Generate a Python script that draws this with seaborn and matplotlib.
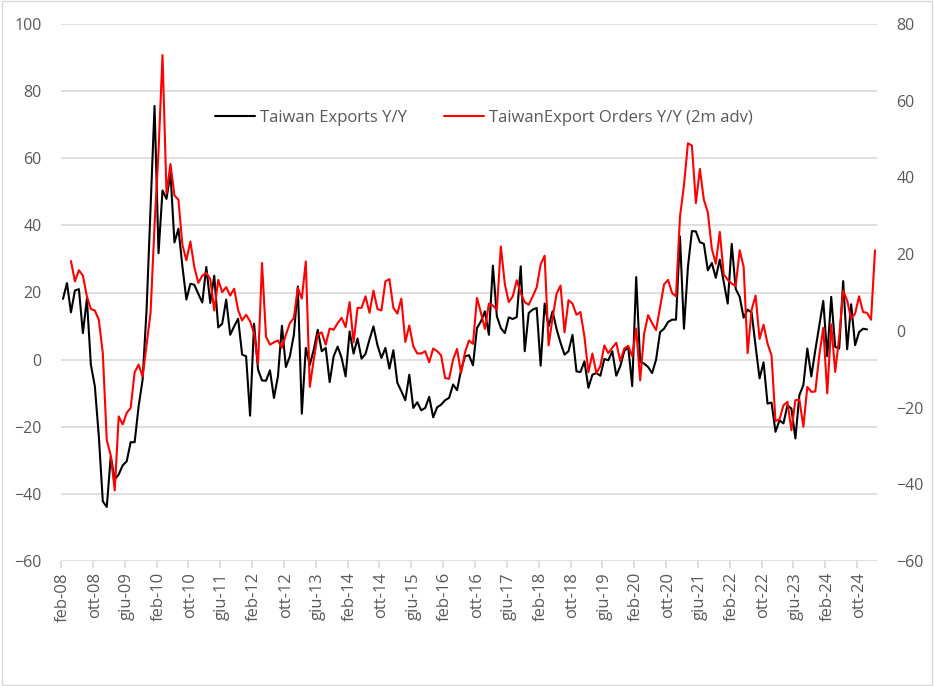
import numpy as np
import pandas as pd
import matplotlib
matplotlib.use("Agg")
import matplotlib.pyplot as plt
import seaborn as sns

# Serie mensili da feb-08 (205 mesi)
start_month = "2008-02"
n_months = 205
mesi_it = ['gen', 'feb', 'mar', 'apr', 'mag', 'giu', 'lug', 'ago', 'set', 'ott', 'nov', 'dic']

# Taiwan Exports Y/Y (asse sinistro), feb-08 .. dic-24
exports_yy = [
    18.1, 22.8, 14.1, 20.6, 21.0, 7.9, 18.1, -1.5, -7.9, -22.8,
    -42.2, -43.9, -28.8, -35.7, -34.2, -31.5, -30.3, -24.6, -24.6, -13.9,
    -6.0, 14.9, 45.6, 75.6, 31.7, 50.4, 47.9, 55.6, 34.9, 39.0,
    27.8, 17.9, 22.6, 22.3, 19.6, 17.0, 27.6, 16.9, 25.0, 9.6,
    10.7, 17.9, 7.4, 9.9, 12.2, 1.5, 1.0, -16.7, 10.7, -3.0,
    -6.2, -6.3, -3.2, -11.4, -5.0, 10.1, -2.2, 1.0, 7.4, 21.8,
    -16.1, 3.5, -1.6, 3.0, 8.9, 2.5, 3.5, -6.7, 1.0, 3.9,
    0.5, -5.0, 8.4, 1.8, 6.3, 0.3, 1.7, 6.0, 9.9, 4.3,
    0.5, 3.5, -2.7, 2.8, -6.9, -9.4, -12.1, -4.5, -14.4, -12.7,
    -15.1, -14.4, -11.1, -17.2, -14.2, -13.4, -12.1, -11.4, -7.4, -9.1,
    -3.2, 1.0, 1.3, -1.7, 9.4, 11.4, 14.4, 7.4, 28.0, 12.9,
    9.4, 7.9, 12.6, 12.1, 12.7, 27.8, 2.5, 13.9, 14.9, 15.4,
    -1.8, 16.7, 9.9, 14.4, 9.1, 5.0, 1.5, 2.5, 7.4, -3.5,
    -3.7, -0.5, -8.4, -4.5, -4.0, -4.8, 0.2, -0.2, 2.5, -4.8,
    -2.0, 2.5, 3.8, -7.9, 24.6, -0.7, -1.2, -2.2, -4.0, 0.0,
    8.2, 9.2, 11.2, 11.9, 11.9, 36.7, 9.2, 27.6, 38.3, 38.2,
    35.0, 34.5, 26.6, 28.8, 24.4, 29.8, 23.1, 16.7, 34.5, 21.1,
    18.7, 12.5, 14.9, 14.0, 4.0, -5.6, -0.8, -13.1, -12.8, -21.5,
    -18.1, -19.0, -13.6, -14.6, -23.5, -10.6, -7.6, 3.3, -5.0, 2.8,
    10.2, 17.5, 1.0, 18.7, 3.8, 3.3, 23.4, 3.1, 16.5, 4.3,
    8.2, 9.2, 9.0,
]

# TaiwanExport Orders Y/Y (2m adv) (asse destro), apr-08 .. feb-25
orders_yy = [
    18.2, 12.9, 15.8, 14.4, 9.0, 5.7, 5.3, 2.9, -5.8, -28.5,
    -32.5, -41.6, -22.3, -24.4, -21.4, -20.1, -10.8, -8.8, -11.9, -3.6,
    4.7, 27.5, 46.8, 71.9, 35.9, 43.5, 35.3, 34.2, 22.4, 18.4,
    23.3, 16.6, 12.5, 14.4, 15.1, 13.5, 5.3, 13.3, 10.1, 11.4,
    9.2, 11.0, 5.4, 2.7, 4.2, 2.5, -0.6, -8.6, 17.7, -1.5,
    -3.6, -3.0, -2.5, -4.4, -1.0, 2.0, 3.4, 11.2, 8.4, 18.1,
    -14.6, -7.5, -1.0, -0.4, -3.6, 0.6, 0.3, 2.0, 3.4, 1.0,
    7.5, -3.0, 6.0, 6.0, 9.0, 4.7, 10.5, 5.7, 5.3, 12.9,
    13.5, 6.0, 4.5, 8.4, -2.9, 1.4, -4.0, -5.9, -5.9, -5.3,
    -8.2, -4.6, -5.3, -6.4, -12.3, -12.5, -7.5, -4.7, -11.0, -5.6,
    -2.5, -3.4, 8.6, 4.7, 0.5, 7.1, 6.6, 5.5, 22.0, 12.2,
    7.5, 9.0, 13.2, 9.8, 7.5, 6.8, 9.0, 11.3, 17.3, 19.6,
    -3.8, 3.4, 9.7, 11.8, -0.4, 8.0, 7.1, 4.2, 4.9, -1.5,
    -10.8, -5.9, -11.0, -9.2, -3.8, -5.8, -4.4, -3.1, -7.9, -4.6,
    -3.9, -6.6, 0.6, -12.9, -0.7, 4.1, 2.0, 0.2, 6.2, 12.1,
    13.3, 9.9, 9.0, 29.7, 37.9, 48.9, 48.3, 33.3, 42.2, 34.2,
    30.9, 21.4, 17.5, 25.8, 14.7, 13.3, 12.3, 11.7, 21.0, 16.7,
    -5.8, 5.5, 9.2, -2.1, 1.6, -3.3, -6.4, -23.5, -23.1, -19.4,
    -18.5, -25.9, -18.1, -17.9, -25.0, -14.6, -15.9, -15.8, -6.4, 0.8,
    -16.3, 1.7, -10.7, -1.6, 10.5, 7.9, 3.2, 4.5, 9.0, 4.9,
    4.7, 2.9, 21.0,
]

dates = pd.date_range(start_month, periods=n_months, freq="MS")
idx = np.arange(n_months)
exp_full = np.full(n_months, np.nan)
exp_full[:len(exports_yy)] = exports_yy
ord_full = np.full(n_months, np.nan)
ord_full[n_months - len(orders_yy):] = orders_yy
df = pd.DataFrame({"i": idx, "exports": exp_full, "orders": ord_full})

sns.set_style("white")
plt.rcParams['font.family'] = ['Open Sans', 'DejaVu Sans']

fig = plt.figure(figsize=(9.34, 6.86), dpi=100)
ax = fig.add_axes([61 / 934, 1 - 561 / 686, 816 / 934, 537 / 686])
ax2 = ax.twinx()

grey_txt = "#595959"
grid_c = "#d9d9d9"

sns.lineplot(data=df, x="i", y="exports", ax=ax, color="black", lw=1.5,
             label="Taiwan Exports Y/Y", legend=False)
sns.lineplot(data=df, x="i", y="orders", ax=ax2, color="#ff0000", lw=1.5,
             label="TaiwanExport Orders Y/Y (2m adv)", legend=False)

ax.set_ylim(-60, 100)
ax.set_yticks(np.arange(-60, 101, 20))
ax2.set_ylim(-60, 80)
ax2.set_yticks(np.arange(-60, 81, 20))
ax.set_xlim(-0.5, n_months - 0.5)

ax.yaxis.grid(True, color=grid_c, lw=1.2)
ax.set_axisbelow(True)
ax.set_zorder(ax2.get_zorder() - 1)
ax2.patch.set_visible(False)
ax.patch.set_visible(False)

for a in (ax, ax2):
    for s in a.spines.values():
        s.set_visible(False)
    a.set_xlabel("")
    a.set_ylabel("")
    a.tick_params(axis="y", length=0, labelsize=11.5, labelcolor=grey_txt, pad=14)

# etichette mensili ogni 8 mesi
tick_pos = idx[::8]
tick_lab = [f"{mesi_it[d.month - 1]}-{d.strftime('%y')}" for d in dates[::8]]
ax.set_xticks(tick_pos)
ax.set_xticklabels(tick_lab, rotation=90)
ax.set_xticks(np.arange(-0.5, n_months, 8), minor=True)
ax.tick_params(axis="x", which="major", length=0, labelsize=12, labelcolor=grey_txt, pad=8)
ax.tick_params(axis="x", which="minor", length=5, color=grid_c, width=1.2, direction="out")
ax.tick_params(axis="x", which="minor", bottom=True)

h1, l1 = ax.get_legend_handles_labels()
h2, l2 = ax2.get_legend_handles_labels()
ax2.legend(h1 + h2, l1 + l2, loc="center", bbox_to_anchor=(0.518, 0.825), ncol=2,
           frameon=False, fontsize=12, handlelength=2.4, handletextpad=0.3,
           columnspacing=2.2, labelcolor=grey_txt)

# bordo dell'area del grafico
fig.patches.append(plt.Rectangle((0.002, 0.002), 0.996, 0.996, transform=fig.transFigure,
                                 fill=False, edgecolor=grid_c, lw=1))

fig.savefig("out.png", dpi=100)
